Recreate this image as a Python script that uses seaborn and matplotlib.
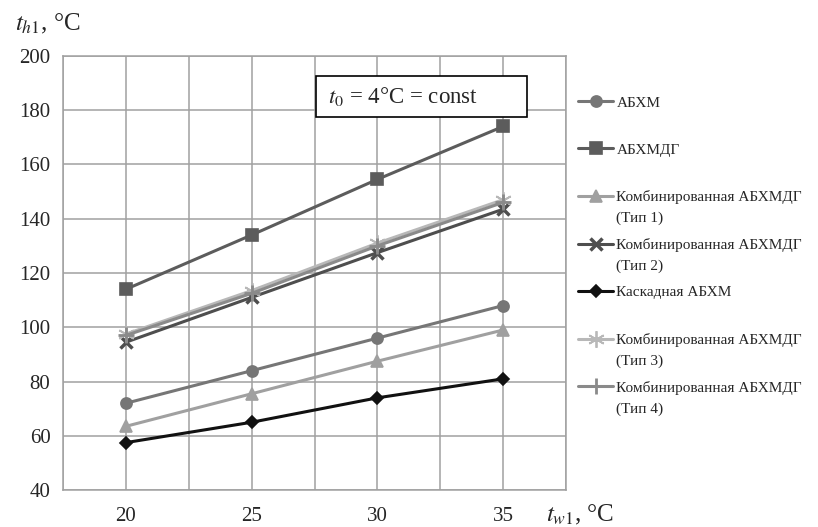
import numpy as np
import pandas as pd
import matplotlib
matplotlib.use("Agg")
import matplotlib.pyplot as plt
from matplotlib.patches import Rectangle
import seaborn as sns

categories = ["20", "25", "30", "35"]
series_names = [
    "АБХМ",
    "АБХМДГ",
    "Комбинированная АБХМДГ",
    "Комбинированная АБХМДГ ",
    "Каскадная АБХМ",
    "Комбинированная АБХМДГ  ",
    "Комбинированная АБХМДГ   ",
]
second_lines = ["", "", "(Тип 1)", "(Тип 2)", "", "(Тип 3)", "(Тип 4)"]
abhm = [72, 84, 96, 108]
abhmdg = [114, 134, 154.5, 174]
comb1 = [63.5, 75.5, 87.5, 99]
comb2 = [94.5, 111, 127.5, 143.5]
cascade = [57.5, 65, 74, 81]
comb3 = [97.5, 113.5, 131, 147]
comb4 = [97, 112.5, 130, 146]
values = [abhm, abhmdg, comb1, comb2, cascade, comb3, comb4]

colors = ["#767676", "#5c5c5c", "#a0a0a0", "#4e4e4e", "#111111", "#b8b8b8", "#8a8a8a"]
markers = ["o", "s", "^", "x", "D", (6, 2, 0), "+"]
msizes = [8, 8, 8, 9, 6, 12, 11]
medgew = [1.2, 1.2, 1.2, 2.5, 1.2, 1.3, 2.0]

rows = []
for name, vals in zip(series_names, values):
    for i, v in enumerate(vals):
        rows.append({"x": i, "y": v, "series": name})
df = pd.DataFrame(rows)

sns.set_style("white")
plt.rcParams["font.family"] = ["Liberation Serif", "DejaVu Serif"]
plt.rcParams["mathtext.fontset"] = "stix"

fig = plt.figure(figsize=(8.18, 5.27), dpi=100)
ax = fig.add_axes([0.077, 0.070, 0.615, 0.824])

for name, c, m, ms, mew in zip(series_names, colors, markers, msizes, medgew):
    sub = df[df["series"] == name]
    sns.lineplot(data=sub, x="x", y="y", ax=ax, color=c, marker=m,
                 markersize=ms, markeredgecolor=c, markeredgewidth=mew,
                 linewidth=2.2, label=name, zorder=3)

ax.set_xlim(-0.5, 3.5)
ax.set_ylim(40, 200)
ax.set_yticks(np.arange(40, 201, 20))
ax.set_xticks(range(len(categories)))
ax.set_xticklabels(categories)
ax.set_xticks(np.arange(-0.5, 3.51, 1.0), minor=True)
ax.grid(True, which="major", axis="both", color="#a0a0a0", linewidth=1.1)
ax.grid(True, which="minor", axis="x", color="#a0a0a0", linewidth=1.1)
ax.tick_params(axis="x", which="major", length=0, labelsize=15, pad=12)
ax.tick_params(axis="x", which="minor", length=6, color="#a0a0a0", direction="out")
ax.tick_params(axis="y", which="major", length=5, color="#a0a0a0", labelsize=15, pad=4)
ax.set_xlabel("")
ax.set_ylabel("")
for s in ax.spines.values():
    s.set_color("#a0a0a0")
    s.set_linewidth(1.1)

ax.add_patch(Rectangle((0.503, 0.859), 0.419, 0.095, transform=ax.transAxes,
                       facecolor="white", edgecolor="black", linewidth=1.2, zorder=5))
ax.text(0.527, 0.906, r"$t_{\mathrm{0}}$ = 4°C = const", transform=ax.transAxes,
        fontsize=16.5, va="center", ha="left", zorder=6)

fig.text(0.018, 0.955, r"$t_{h\mathrm{1}}$, °C", fontsize=18, ha="left", va="center")
fig.text(0.668, 0.022, r"$t_{w\mathrm{1}}$, °C", fontsize=18, ha="left", va="center")

leg = ax.legend(loc="upper left", bbox_to_anchor=(1.012, 0.922), frameon=False,
                fontsize=11, handlelength=2.3, labelspacing=2.2, handletextpad=0.2,
                borderaxespad=0)
fig.canvas.draw()
for txt, extra in zip(leg.get_texts(), second_lines):
    txt.set_text(txt.get_text().rstrip())
    if extra:
        bb = txt.get_window_extent()
        fx = bb.x0 / fig.bbox.width
        fy = (bb.y0 - 21) / fig.bbox.height
        fig.text(fx, fy, extra, fontsize=11, ha="left", va="bottom")

fig.savefig("out.png", dpi=100)
